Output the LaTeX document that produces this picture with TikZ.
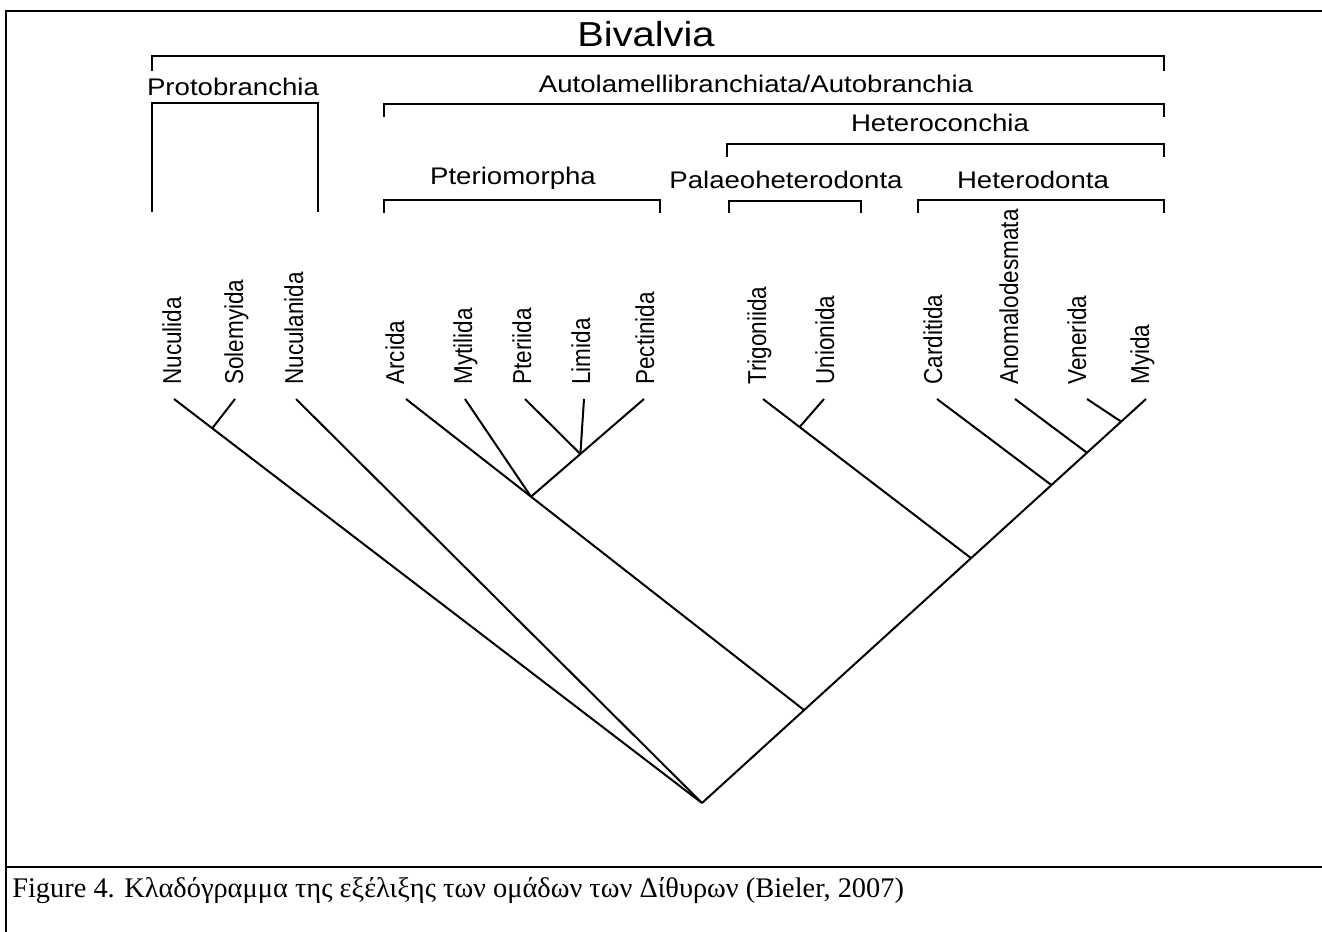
\documentclass[tikz,border=0pt]{standalone}
\usepackage{fontspec}
\usepackage{graphicx}
\setmainfont{Liberation Serif}
\newfontfamily\cladefont{Liberation Sans}
\usetikzlibrary{calc}
% group names are set slightly wide, taxon names slightly tall
\newcommand{\widename}[1]{\scalebox{1.15}[1]{#1}}
\newcommand{\tallname}[1]{\scalebox{1}[1.15]{#1}}

\begin{document}
\begin{tikzpicture}[x=0.75pt,y=-0.75pt,
  frameline/.style={line width=2pt},
  branch/.style={line width=1.5pt},
  bracketline/.style={line width=1.9pt},
  groupname/.style={inner sep=0pt, anchor=base,
    font=\cladefont\fontsize{18pt}{20pt}\selectfont},
  taxon/.style={inner sep=0pt, rotate=90, anchor=base west,
    font=\cladefont\fontsize{16.9pt}{18pt}\selectfont},
]
\useasboundingbox (0,0) rectangle (1322,932);

% frame and caption rule
\coordinate (fTL) at (6,11);
\coordinate (fTR) at (1322,11);
\coordinate (fBL) at (6,932);
\coordinate (sL) at (6,867);
\coordinate (sR) at (1322,867);
\draw[frameline] (fTR) -- (fTL) -- (fBL);
\draw[frameline] (sL) -- (sR);

% ---------- group brackets ----------
\node[inner sep=0pt, anchor=base, font=\cladefont\fontsize{26pt}{28pt}\selectfont]
  (bival) at (646,46) {\widename{Bivalvia}};
\draw[bracketline] (152,71) |- (1164,56) -- (1164,71);

\node[groupname] (proto) at (233,95) {\widename{Protobranchia}};
\draw[bracketline] (152,212) |- (318,103) -- (318,212);

\node[groupname] (autol) at (756,92) {\widename{Autolamellibranchiata/Autobranchia}};
\draw[bracketline] (384,117) |- (1164,104) -- (1164,117);

\node[groupname] (hetcon) at (940,131) {\widename{Heteroconchia}};
\draw[bracketline] (727,157) |- (1164,144) -- (1164,157);

\node[groupname] (pterio) at (513,184) {\widename{Pteriomorpha}};
\draw[bracketline] (384,213) |- (660,200) -- (660,213);

\node[groupname] (palaeo) at (786,188) {\widename{Palaeoheterodonta}};
\draw[bracketline] (729,213) |- (861,201) -- (861,213);

\node[groupname] (hetero) at (1033,188) {\widename{Heterodonta}};
\draw[bracketline] (918,213) |- (1164,200) -- (1164,213);

% ---------- taxon names ----------
\node[taxon] (nNuculida)   at (181,385) {\tallname{Nuculida}};
\node[taxon] (nSolemyida)  at (243,385) {\tallname{Solemyida}};
\node[taxon] (nNuculanida) at (303,385) {\tallname{Nuculanida}};
\node[taxon] (nArcida)     at (404,385) {\tallname{Arcida}};
\node[taxon] (nMytilida)   at (472,385) {\tallname{Mytilida}};
\node[taxon] (nPteriida)   at (531,385) {\tallname{Pteriida}};
\node[taxon] (nLimida)     at (590,385) {\tallname{Limida}};
\node[taxon] (nPectinida)  at (654,385) {\tallname{Pectinida}};
\node[taxon] (nTrigoniida) at (766,385) {\tallname{Trigoniida}};
\node[taxon] (nUnionida)   at (834,385) {\tallname{Unionida}};
\node[taxon] (nCarditida)  at (942,385) {\tallname{Carditida}};
\node[taxon] (nAnomalo)    at (1018,385) {\tallname{Anomalodesmata}};
\node[taxon] (nVenerida)   at (1086,385) {\tallname{Venerida}};
\node[taxon] (nMyida)      at (1149,385) {\tallname{Myida}};

% ---------- cladogram ----------
\coordinate (tNuculida)   at (174,399);
\coordinate (tSolemyida)  at (235,399);
\coordinate (tNuculanida) at (296,399);
\coordinate (tArcida)     at (406,399);
\coordinate (tMytilida)   at (465,399);
\coordinate (tPteriida)   at (525,399);
\coordinate (tLimida)     at (584,399);
\coordinate (tPectinida)  at (644,399);
\coordinate (tTrigoniida) at (763,399);
\coordinate (tUnionida)   at (824,399);
\coordinate (tCarditida)  at (937,399);
\coordinate (tAnomalo)    at (1015,399);
\coordinate (tVenerida)   at (1087,399);
\coordinate (tMyida)      at (1146,399);
\coordinate (root)        at (702,803);

% nodes along the main branches
\coordinate (jNucSol) at ($(tNuculida)!0.0725!(root)$);
\coordinate (jVen)    at ($(tMyida)!0.056!(root)$);
\coordinate (jAno)    at ($(tMyida)!0.133!(root)$);
\coordinate (jCar)    at ($(tMyida)!0.213!(root)$);
\coordinate (jHet)    at ($(tMyida)!0.394!(root)$);
\coordinate (jAut)    at ($(tMyida)!0.770!(root)$);
\coordinate (jPte)    at ($(tArcida)!0.314!(jAut)$);
\coordinate (jPLP)    at ($(tPectinida)!0.563!(jPte)$);
\coordinate (jTriUni) at ($(tTrigoniida)!0.176!(jHet)$);

\draw[branch] (tNuculida) -- (root);
\draw[branch] (tSolemyida) -- (jNucSol);
\draw[branch] (tNuculanida) -- (root);
\draw[branch] (tMyida) -- (root);
\draw[branch] (tArcida) -- (jAut);
\draw[branch] (tMytilida) -- (jPte);
\draw[branch] (tPectinida) -- (jPte);
\draw[branch] (tPteriida) -- (jPLP);
\draw[branch] (tLimida) -- (jPLP);
\draw[branch] (tTrigoniida) -- (jHet);
\draw[branch] (tUnionida) -- (jTriUni);
\draw[branch] (tCarditida) -- (jCar);
\draw[branch] (tAnomalo) -- (jAno);
\draw[branch] (tVenerida) -- (jVen);

% ---------- caption ----------
\node[inner sep=0pt, anchor=base west, font=\fontsize{21.3pt}{24pt}\selectfont]
  (caption) at (12,897)
  {Figure 4. Κλαδόγραμμα της εξέλιξης των ομάδων των Δίθυρων (Bieler, 2007)};
\end{tikzpicture}
\end{document}
